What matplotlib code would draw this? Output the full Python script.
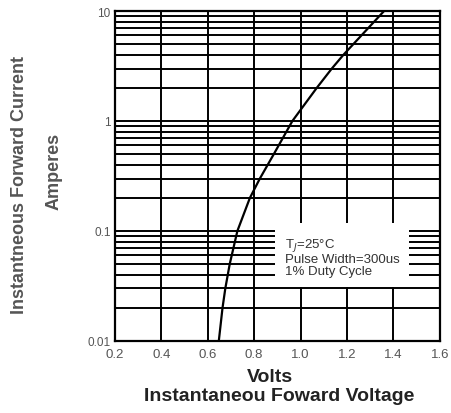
import numpy as np
import matplotlib.pyplot as plt
from matplotlib.ticker import FixedLocator, NullFormatter

# Curva de corriente directa
volts = [0.648, 0.664, 0.676, 0.695, 0.728, 0.782, 0.825, 0.885, 0.965,
         1.07, 1.135, 1.185, 1.36]
amps = [0.01, 0.02, 0.03, 0.05, 0.1, 0.2, 0.3, 0.5, 1.0, 2.0, 3.0, 4.0, 10.0]

xticks = [0.2, 0.4, 0.6, 0.8, 1.0, 1.2, 1.4, 1.6]
xlabels = ['0.2', '0.4', '0.6', '0.8', '1.0', '1.2', '1.4', '1.6']
yticks = [0.01, 0.1, 1, 10]
ylabels = ['0.01', '0.1', '1', '10']
notas = ['T$_J$=25\u00b0C', 'Pulse Width=300us', '1% Duty Cycle']

plt.rcParams['font.family'] = ['Liberation Sans', 'DejaVu Sans']

fig = plt.figure(figsize=(4.52, 4.14), dpi=100)
ax = fig.add_axes([0.254, 0.174, 0.719, 0.797])

ax.plot(volts, amps, color='black', lw=1.6, zorder=3)

ax.set_yscale('log')
ax.set_xlim(0.2, 1.6)
ax.set_ylim(0.01, 10)
ax.set_xticks(xticks)
ax.set_xticklabels(xlabels)
ax.set_yticks(yticks)
ax.set_yticklabels(ylabels)
minors = [m * 10.0 ** d for d in (-2, -1, 0) for m in range(2, 10)]
ax.yaxis.set_minor_locator(FixedLocator(minors))
ax.yaxis.set_minor_formatter(NullFormatter())

ax.grid(True, which='both', color='black', lw=1.4)
for s in ax.spines.values():
    s.set_linewidth(1.6)
ax.tick_params(which='both', length=0)
ax.tick_params(axis='x', labelsize=9.5, labelcolor='#555555', pad=5)
ax.tick_params(axis='y', labelsize=8.5, labelcolor='#555555', pad=3)

# Cuadro de condiciones
ax.text(0.523, 0.255, '\n'.join(notas), transform=ax.transAxes, fontsize=9.5,
        color='#333333', va='center', ha='left', linespacing=1.0, zorder=4,
        bbox=dict(facecolor='white', edgecolor='none', pad=7))

# Titulos de ejes
fig.text(0.598, 0.089, 'Volts', fontsize=14, fontweight='bold',
         color='#222222', va='center', ha='center')
fig.text(0.617, 0.043, 'Instantaneou Foward Voltage', fontsize=14,
         fontweight='bold', color='#222222', va='center', ha='center')
fig.text(0.044, 0.553, 'Instantneous Forward Current', rotation=90,
         fontsize=13, fontweight='bold', color='#555555', va='center', ha='center')
fig.text(0.119, 0.585, 'Amperes', rotation=90, fontsize=13, fontweight='bold',
         color='#555555', va='center', ha='center')

fig.savefig('out.png', dpi=100)
